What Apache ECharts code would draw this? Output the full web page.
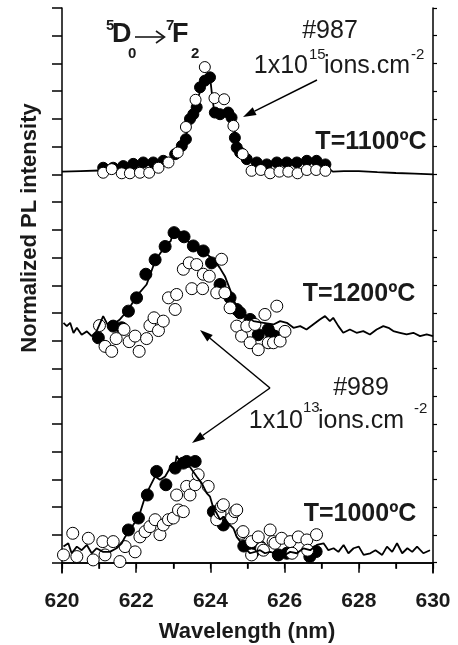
<!DOCTYPE html>
<html>
<head>
<meta charset="utf-8">
<script src="https://cdn.jsdelivr.net/npm/echarts@6/dist/echarts.min.js"></script>
<style>
  html, body { margin: 0; padding: 0; background: #fff; }
  #chart { width: 458px; height: 645px; }
</style>
</head>
<body>
<div id="chart"></div>
<script>
// wavelength (nm) vs normalized PL intensity (arbitrary, stacked offsets)
const xTicks = [620, 622, 624, 626, 628, 630];
const yTicks = [0, 1, 2, 3, 4, 5, 6, 7, 8, 9, 10, 11, 12, 13, 14, 15, 16, 17, 18, 19, 20];

// T=1100ºC (top)
const line1100 = [[620.0,14.10],[620.5,14.12],[621.0,14.14],[621.5,14.20],[622.0,14.30],[622.5,14.38],[622.9,14.55],[623.1,14.75],[623.3,15.20],[623.45,15.9],[623.6,16.5],[623.75,17.1],[623.9,17.45],[624.0,17.4],[624.05,16.8],[624.1,16.3],[624.3,16.2],[624.5,16.2],[624.6,15.9],[624.7,15.3],[624.85,14.8],[625.0,14.55],[625.3,14.42],[625.6,14.36],[626.0,14.40],[626.5,14.45],[626.9,14.45],[627.1,14.30],[627.3,14.10],[627.6,14.12],[628.0,14.12],[628.5,14.08],[629.0,14.05],[629.5,14.03],[630.0,14.00]];
const filled1100 = [[621.11,14.24],[621.38,14.24],[621.65,14.30],[621.92,14.38],[622.19,14.43],[622.46,14.43],[622.73,14.49],[623.05,14.73],[623.23,15.03],[623.34,15.27],[623.45,16.00],[623.54,16.17],[623.63,16.42],[623.72,17.14],[623.85,17.38],[623.99,17.50],[624.12,16.23],[624.26,16.17],[624.48,16.23],[624.57,16.05],[624.66,15.32],[624.71,14.97],[624.80,14.79],[624.98,14.55],[625.25,14.43],[625.52,14.36],[625.79,14.43],[626.06,14.43],[626.33,14.43],[626.60,14.49],[626.86,14.49],[627.10,14.36]];
const open1100 = [[621.11,14.06],[621.34,14.19],[621.61,14.04],[621.83,14.04],[622.10,14.06],[622.35,14.06],[622.60,14.24],[622.87,14.43],[623.12,14.79],[623.34,15.71],[623.60,16.69],[623.85,17.87],[624.11,16.75],[624.37,16.71],[624.62,15.75],[624.87,14.73],[625.11,14.13],[625.36,14.16],[625.61,14.04],[625.86,14.10],[626.10,14.10],[626.35,14.04],[626.60,14.16],[626.85,14.16],[627.10,14.13]];

// T=1200ºC (middle)
const line1200 = [[620.04,8.65],[620.13,8.53],[620.22,8.65],[620.31,8.28],[620.40,8.47],[620.53,8.22],[620.67,8.34],[620.80,8.17],[620.93,8.34],[621.11,8.89],[621.25,8.53],[621.38,8.59],[621.56,8.77],[621.79,9.13],[622.01,9.61],[622.28,10.03],[622.51,10.88],[622.78,11.42],[622.93,11.60],[623.02,12.00],[623.23,11.90],[623.36,11.60],[623.54,11.48],[623.72,11.18],[623.90,11.12],[624.08,10.94],[624.25,10.64],[624.39,10.33],[624.53,9.85],[624.66,9.37],[624.80,9.07],[624.98,8.89],[625.16,8.71],[625.43,8.65],[625.70,8.59],[625.88,8.71],[626.06,8.65],[626.24,8.47],[626.42,8.53],[626.59,8.41],[626.77,8.59],[626.95,8.77],[627.09,8.89],[627.22,8.71],[627.31,8.83],[627.45,8.53],[627.58,8.29],[627.76,8.41],[627.94,8.29],[628.12,8.35],[628.30,8.23],[628.48,8.41],[628.66,8.53],[628.80,8.47],[628.93,8.35],[629.11,8.29],[629.29,8.23],[629.47,8.29],[629.65,8.17],[629.83,8.23],[630.0,8.17]];
const filled1200 = [[620.98,8.11],[621.38,8.53],[621.61,8.47],[621.79,9.07],[622.01,9.55],[622.26,10.40],[622.51,10.92],[622.78,11.40],[623.02,11.90],[623.29,11.75],[623.54,11.42],[623.81,11.24],[624.03,10.81],[624.26,10.03],[624.53,9.55],[624.71,9.13],[624.80,9.01],[625.07,8.77],[625.29,8.22],[625.56,8.41],[625.65,8.22],[625.74,8.16]];
const open1200 = [[621.01,8.55],[621.16,7.80],[621.34,7.62],[621.46,8.08],[621.67,8.41],[621.81,7.97],[621.97,8.17],[622.08,7.62],[622.28,8.08],[622.37,8.55],[622.48,8.83],[622.60,8.37],[622.73,8.71],[622.87,9.55],[623.05,9.13],[623.09,9.67],[623.27,10.58],[623.43,10.81],[623.50,9.88],[623.63,10.75],[623.79,9.88],[623.81,10.40],[623.97,10.33],[624.17,9.73],[624.30,10.94],[624.39,9.73],[624.53,9.19],[624.71,8.53],[624.84,8.17],[624.98,8.53],[625.07,7.93],[625.20,8.59],[625.29,7.68],[625.47,8.95],[625.56,7.93],[625.70,7.93],[625.79,9.25],[625.88,7.99],[626.01,8.34]];

// T=1000ºC (bottom)
const line1000 = [[620.04,0.58],[620.17,0.70],[620.26,0.34],[620.40,0.58],[620.53,0.45],[620.67,0.64],[620.80,0.34],[620.93,0.52],[621.11,0.39],[621.29,0.39],[621.47,0.52],[621.61,0.70],[621.70,0.93],[621.83,1.18],[622.01,1.55],[622.10,1.78],[622.24,2.38],[622.37,2.74],[622.51,3.11],[622.64,2.99],[622.78,3.11],[622.91,3.41],[623.05,3.53],[623.09,3.85],[623.18,3.65],[623.32,3.50],[623.45,3.45],[623.63,3.11],[623.77,2.86],[623.90,2.51],[623.99,2.38],[624.08,1.97],[624.17,1.78],[624.26,1.55],[624.35,1.66],[624.48,1.42],[624.62,1.24],[624.71,0.93],[624.84,0.70],[624.98,0.45],[625.07,0.34],[625.20,0.39],[625.34,0.45],[625.47,0.34],[625.61,0.39],[625.74,0.34],[625.88,0.45],[626.01,0.28],[626.15,0.39],[626.33,0.34],[626.51,0.52],[626.69,0.45],[626.87,0.64],[627.05,0.70],[627.18,0.45],[627.32,0.52],[627.45,0.39],[627.59,0.64],[627.72,0.34],[627.86,0.52],[628.00,0.58],[628.13,0.28],[628.31,0.34],[628.45,0.45],[628.63,0.28],[628.76,0.58],[628.90,0.39],[629.03,0.70],[629.17,0.34],[629.31,0.52],[629.44,0.39],[629.57,0.58],[629.74,0.34],[629.92,0.45]];
const filled1000 = [[621.79,1.18],[622.06,1.61],[622.30,2.44],[622.55,3.29],[622.80,2.81],[623.05,3.41],[623.27,3.59],[623.36,3.65],[623.59,3.65],[624.08,1.84],[624.35,1.36],[624.90,0.60],[625.16,0.39],[625.34,0.58],[625.83,0.28],[626.06,0.34],[626.68,0.22],[626.85,0.40]];
const open1000 = [[620.04,0.28],[620.29,1.06],[620.40,0.22],[620.71,0.88],[620.84,0.10],[621.10,0.76],[621.16,0.28],[621.38,0.76],[621.56,0.04],[621.70,0.58],[621.97,0.39],[622.10,0.93],[622.24,1.12],[622.37,1.30],[622.51,1.55],[622.64,1.01],[622.73,1.36],[622.87,1.55],[623.00,1.61],[623.14,1.90],[623.27,1.84],[623.09,2.44],[623.36,2.75],[623.45,2.44],[623.59,2.81],[623.67,3.17],[623.94,2.75],[624.17,1.55],[624.26,1.79],[624.30,2.03],[624.35,2.09],[624.57,1.61],[624.66,1.84],[624.71,1.90],[624.84,1.06],[624.88,1.12],[625.11,0.76],[625.11,0.28],[625.29,0.93],[625.38,0.52],[625.43,0.45],[625.61,1.18],[625.69,0.76],[625.74,0.70],[625.92,0.88],[626.15,0.76],[626.20,0.34],[626.37,0.93],[626.60,0.82],[626.62,0.45],[626.86,1.01]];

const FONT = '"Liberation Sans", Arial, Helvetica, sans-serif';
const INK = '#1a1a1a';

function lineSeries(data, z) {
  return { type: 'line', data: data, z: z, symbol: 'none', lineStyle: { color: '#000', width: 1.8 }, silent: true };
}
function dotSeries(data, filled, z, size) {
  return {
    type: 'scatter', data: data, z: z, symbol: 'circle', symbolSize: size,
    itemStyle: { color: filled ? '#000' : '#fff', borderColor: '#000', borderWidth: 1, opacity: 1 },
    silent: true
  };
}

function txt(text, x, y, size, bold, align) {
  return {
    type: 'text', x: x, y: y, z: 100,
    style: {
      text: text, fill: INK,
      font: (bold ? 'bold ' : '') + size + 'px ' + FONT,
      align: align || 'left', verticalAlign: 'middle',
      textAlign: align || 'left', textVerticalAlign: 'middle'
    }
  };
}

function arrow(x1, y1, x2, y2, head) {
  const dx = x2 - x1, dy = y2 - y1, L = Math.hypot(dx, dy);
  const ux = dx / L, uy = dy / L;
  const bx = x2 - ux * head, by = y2 - uy * head, w = head * 0.33;
  return [
    { type: 'line', z: 100, shape: { x1: x1, y1: y1, x2: bx, y2: by }, style: { stroke: '#000', lineWidth: 1.5 } },
    { type: 'polygon', z: 100, shape: { points: [[x2, y2], [bx - uy * w, by + ux * w], [bx + uy * w, by - ux * w]] }, style: { fill: '#000' } }
  ];
}

const chart = echarts.init(document.getElementById('chart'), null, { renderer: 'canvas' });

const axisLine = { show: true, lineStyle: { color: '#000', width: 1.5 } };

chart.setOption({
  animation: false,
  backgroundColor: '#fff',
  grid: { left: 62, right: 25, top: 8, bottom: 72, containLabel: false },
  xAxis: [
    {
      type: 'value', position: 'bottom', min: 620, max: 630, interval: 2,
      axisLine: axisLine,
      axisTick: { show: true, inside: false, length: 10, lineStyle: { color: '#000', width: 1.5 } },
      minorTick: { show: true, splitNumber: 2, length: 6, lineStyle: { color: '#000', width: 1.5 } },
      axisLabel: { show: true, margin: 18, color: INK, fontFamily: FONT, fontWeight: 'bold', fontSize: 21,
        customValues: xTicks },
      splitLine: { show: false }
    },
    {
      type: 'value', position: 'top', min: 620, max: 630, interval: 1,
      axisLine: axisLine,
      axisTick: { show: true, inside: true, length: 6, lineStyle: { color: '#000', width: 1.2 } },
      axisLabel: { show: false },
      splitLine: { show: false }
    }
  ],
  yAxis: [
    {
      type: 'value', position: 'left', min: -0.372, max: 20,
      axisLine: axisLine,
      axisTick: { show: true, inside: false, length: 10, customValues: yTicks, lineStyle: { color: '#000', width: 1.5 } },
      axisLabel: { show: false },
      splitLine: { show: false }
    },
    {
      type: 'value', position: 'right', min: -0.372, max: 20,
      axisLine: axisLine,
      axisTick: { show: true, inside: false, length: 4, customValues: yTicks, lineStyle: { color: '#000', width: 1.2 } },
      axisLabel: { show: false },
      splitLine: { show: false }
    }
  ],
  series: [
    lineSeries(line1100, 1),
    dotSeries(filled1100, true, 2, 11),
    dotSeries(open1100, false, 3, 11),
    dotSeries(filled1200, true, 2, 12),
    dotSeries(open1200, false, 3, 12),
    lineSeries(line1200, 4),
    dotSeries(filled1000, true, 2, 12),
    dotSeries(open1000, false, 3, 12),
    lineSeries(line1000, 4)
  ],
  graphic: [
    // axis titles
    txt('Wavelength (nm)', 247, 632, 22, true, 'center'),
    Object.assign(txt('Normalized PL intensity', 30, 228, 22, true, 'center'), { rotation: Math.PI / 2 }),

    // transition label 5D0 -> 7F2
    txt('5', 106, 26, 15, true),
    txt('D', 112, 35, 27, true),
    txt('0', 128, 54, 15, true),
    { type: 'line', z: 100, shape: { x1: 135, y1: 37, x2: 164, y2: 37 }, style: { stroke: INK, lineWidth: 1.6 } },
    { type: 'polyline', z: 100, shape: { points: [[156, 31], [164.5, 37], [156, 43]] }, style: { stroke: INK, lineWidth: 1.6, fill: null } },
    txt('7', 166, 26, 15, true),
    txt('F', 172, 35, 27, true),
    txt('2', 191, 54, 15, true),

    // sample #987
    txt('#987', 330, 31, 25, false, 'center'),
    txt('1x10', 308, 66, 25, false, 'right'),
    txt('15', 309, 55, 15, false),
    txt('ions.cm', 324, 66, 25, false),
    txt('-2', 411, 55, 15, false),
    ...arrow(317, 80, 243, 117, 13),

    // temperatures
    txt('T=1100\u00baC', 371, 142, 25, true, 'center'),
    txt('T=1200\u00baC', 359, 294, 25, true, 'center'),
    txt('T=1000\u00baC', 360, 514, 25, true, 'center'),

    // sample #989
    txt('#989', 361, 388, 25, false, 'center'),
    txt('1x10', 303, 421, 25, false, 'right'),
    txt('13', 303, 408, 15, false),
    txt('ions.cm', 318, 421, 25, false),
    txt('-2', 414, 409, 15, false),
    ...arrow(270, 388, 200, 330, 13),
    ...arrow(270, 388, 192, 443, 13)
  ]
});
</script>
</body>
</html>
